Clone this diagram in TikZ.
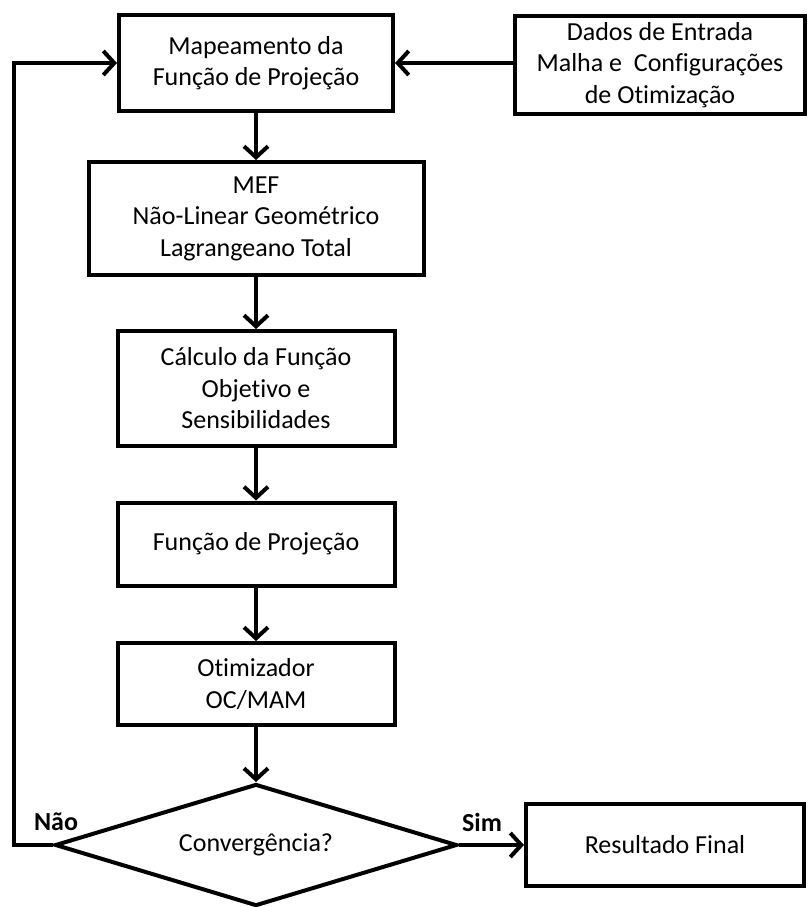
\documentclass[tikz,border=0pt]{standalone}
\usepackage{fontspec}
\setmainfont{Carlito}[Ligatures={NoCommon,NoContextual}, RawFeature=-liga, RawFeature=-clig, RawFeature=-dlig]
\usetikzlibrary{shapes.geometric,arrows.meta}
\begin{document}
\begin{tikzpicture}[x=1pt,y=-1pt,
  box/.style={draw, line width=4pt, rectangle, align=center, inner sep=0pt,
    font=\fontsize{26}{31.5}\selectfont},
  dec/.style={draw, line width=4pt, diamond, inner sep=0pt, shape aspect=3.3,
    minimum width=402pt, minimum height=122pt, font=\fontsize{26}{31.5}\selectfont},
  arr/.style={line width=4pt, -{Straight Barb[length=11pt,width=24pt]}},
  lbl/.style={font=\fontsize{26}{30}\selectfont\bfseries}]
\useasboundingbox (0,0) rectangle (808,907);
\node[box, minimum width=274pt, minimum height=95pt] (map) at (256,63) {Mapeamento da\\Função de Projeção};
\node[box, minimum width=290pt, minimum height=98pt] (dados) at (660,65) {Dados de Entrada\\Malha e~ Configurações\\de Otimização};
\node[box, minimum width=335pt, minimum height=113pt] (mef) at (256,218.5) {MEF\\Não-Linear Geométrico\\Lagrangeano Total};
\node[box, minimum width=277pt, minimum height=115pt] (calc) at (256,388.5) {Cálculo da Função\\Objetivo e\\Sensibilidades};
\node[box, minimum width=277pt, minimum height=83pt] (proj) at (256,544) {Função de Projeção};
\node[box, minimum width=277pt, minimum height=82pt] (otim) at (256,684) {Otimizador\\OC/MAM};
\node[dec] (conv) at (256,845) {Convergência?};
\node[box, minimum width=278pt, minimum height=82pt] (res) at (665,845) {Resultado Final};
\coordinate (lb) at (14,845);
\coordinate (lt) at (14,63);
\draw[arr] (map) -- (mef);
\draw[arr] (mef) -- (calc);
\draw[arr] (calc) -- (proj);
\draw[arr] (proj) -- (otim);
\draw[arr] (otim) -- (conv);
\draw[arr] (dados.west |- map.east) -- (map.east);
\draw[arr] (conv.east) -- (res.west);
\draw[arr, line join=miter] (conv.west) -- (lb) -- (lt) -- (map.west);
\node[lbl] (nao) at (56,822) {Não};
\node[lbl] (sim) at (482,822) {Sim};
\end{tikzpicture}
\end{document}
